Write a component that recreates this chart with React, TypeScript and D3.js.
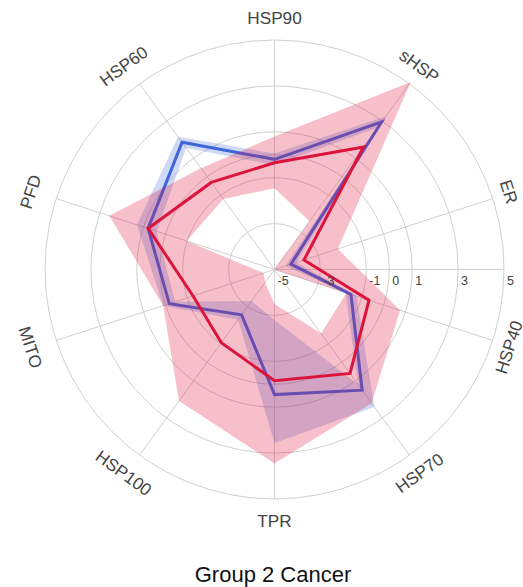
import React from "react";
import * as d3 from "d3";

const categories = ["HSP90", "sHSP", "ER", "HSP40", "HSP70", "TPR", "HSP100", "MITO", "PFD", "HSP60"];
const radialTicks = [-5, -3, -1, 0, 1, 3, 5];
const ringValues = [-3, -1, 0, 1, 3, 5];

const blueMean = [-0.2, 2.95, -4.25, -1.5, 1.5, 0.45, -2.56, -0.18, 0.79, 1.85];
const blueUpper = [0.05, 3.25, -4.0, -1.25, 2.4, 2.56, -2.3, 0.1, 1.3, 2.15];
const blueLower = [-0.45, 2.65, -4.5, -1.75, 1.2, -2.8, -3.3, -0.45, 0.4, 1.55];

const redMean = [-0.35, 1.6, -3.65, -0.67, 0.6, -0.15, -1.06, -1.27, 0.79, -0.31];
const redUpper = [0.8, 5.1, -2.1, 0.75, 2.2, 3.45, 2.08, 0.1, 2.57, 0.45];
const redLower = [-1.46, -2.4, -5.0, -1.7, -1.55, -3.5, -4.3, -4.5, -0.97, -1.2];

const title = "Group 2 Cancer";

const W = 523;
const H = 587;
const CX = 274.5;
const CY = 269.5;
const R = 229.5;

export default function App() {
  const r = d3.scaleLinear().domain([-5, 5]).range([0, R]);
  const ang = d3
    .scaleLinear()
    .domain([0, categories.length])
    .range([0, 2 * Math.PI]);

  const loop = d3
    .lineRadial<number>()
    .angle((_, i) => ang(i))
    .radius((v) => r(v))
    .curve(d3.curveLinearClosed);

  const loopRev = (vals: number[]) => {
    const idx = vals.map((_, i) => i).reverse();
    return d3
      .lineRadial<number>()
      .angle((i) => ang(i))
      .radius((i) => r(vals[i]))
      .curve(d3.curveLinearClosed)(idx) as string;
  };

  const band = (up: number[], lo: number[]) => (loop(up) as string) + loopRev(lo);

  const pt = (i: number, v: number) => {
    const a = ang(i);
    return [Math.sin(a) * r(v), -Math.cos(a) * r(v)];
  };

  const grid = "#d0d0d0";
  const labelColor = "#444";

  return (
    <svg
      width={W}
      height={H}
      style={{ position: "absolute", left: 0, top: 0, background: "#fff" }}
      fontFamily="'Liberation Sans', Arial, sans-serif"
    >
      <g transform={`translate(${CX},${CY})`}>
        {ringValues.map((v) => (
          <circle key={v} r={r(v)} fill="none" stroke={grid} strokeWidth={1} />
        ))}
        {categories.map((c, i) => {
          const [x, y] = pt(i, 5);
          return <line key={c} x1={0} y1={0} x2={x} y2={y} stroke={grid} strokeWidth={1} />;
        })}
        <line x1={0} y1={0} x2={r(5)} y2={0} stroke={grid} strokeWidth={1} />

        <path
          d={band(blueUpper, blueLower)}
          fill="rgba(65,105,225,0.25)"
          fillRule="evenodd"
          stroke="none"
        />
        <path
          d={loop(blueMean) as string}
          fill="none"
          stroke="#3d65dc"
          strokeWidth={3}
          strokeLinejoin="miter"
        />
        <path
          d={band(redUpper, redLower)}
          fill="rgba(220,20,60,0.27)"
          fillRule="evenodd"
          stroke="none"
        />
        <path
          d={loop(redMean) as string}
          fill="none"
          stroke="#dc143c"
          strokeWidth={3}
          strokeLinejoin="miter"
        />

        {radialTicks.map((v) => (
          <text
            key={v}
            x={r(v) + 3}
            y={15}
            fontSize={12.5}
            fill={labelColor}
          >
            {v}
          </text>
        ))}

        {categories.map((c, i) => {
          const deg = (ang(i) * 180) / Math.PI;
          const rot = deg > 90 && deg < 270 ? deg - 180 : deg;
          const a = ang(i);
          const rr = R + 22;
          const x = Math.sin(a) * rr - 5 * Math.abs(Math.sin(a));
          const y = -Math.cos(a) * rr;
          return (
            <text
              key={c}
              x={0}
              y={0}
              transform={`translate(${x},${y}) rotate(${rot})`}
              textAnchor="middle"
              dominantBaseline="central"
              fontSize={17.2}
              fill={labelColor}
            >
              {c}
            </text>
          );
        })}
      </g>
      <text
        x={CX - 1.5}
        y={582}
        textAnchor="middle"
        fontSize={22}
        fill="#111"
      >
        {title}
      </text>
    </svg>
  );
}
